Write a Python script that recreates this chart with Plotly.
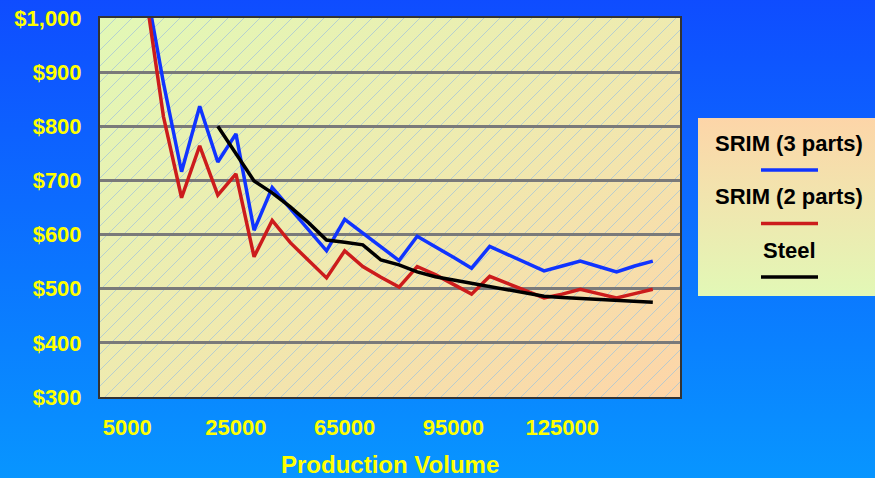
import base64
import plotly.graph_objects as go

# Production volumes (category axis) and labelled volumes
volumes = [2500, 5000, 7500, 10000, 12500, 15000, 20000, 25000, 30000, 35000,
           40000, 50000, 60000, 65000, 70000, 75000, 80000, 85000, 90000, 95000,
           100000, 105000, 110000, 115000, 120000, 125000, 130000, 135000, 140000,
           145000, 150000, 155000]
labelled_volumes = [5000, 25000, 65000, 95000, 125000]

# Cost per part ($)
srim3_volumes = volumes[2:31]
srim3_cost = [1065, 880, 716, 837, 734, 786, 608, 687, 648, 609, 570, 628, 603, 577,
              552, 597, 578, 558, 538, 578, 563, 548, 533, 542, 551, 541, 531, 542, 551]

srim2_volumes = volumes[2:31]
srim2_cost = [1050, 818, 668, 764, 673, 712, 559, 626, 585, 552, 520, 570, 541, 521,
              503, 541, 526, 508, 490, 523, 510, 497, 483, 490, 499, 491, 483, 491, 499]

steel_volumes = volumes[6:31]
steel_cost = [800, 750, 699, 677, 651, 622, 590, 586, 581, 553, 544, 531, 522, 516,
              510, 505, 498, 492, 486, 484, 482, 480, 479, 477, 475]

series = [
    ("SRIM (3 parts)", srim3_volumes, srim3_cost, "#1034FF"),
    ("SRIM (2 parts)", srim2_volumes, srim2_cost, "#CC1C1C"),
    ("Steel", steel_volumes, steel_cost, "#000000"),
]

W, H = 875, 478
ML, MR, MT, MB = 100, 195, 18, 81
PW, PH = W - ML - MR, H - MT - MB


def px_x(x):
    return (x - ML) / PW


def px_y(y):
    return (H - MB - y) / PH


def svg_uri(svg):
    return "data:image/svg+xml;base64," + base64.b64encode(svg.encode()).decode()


page_bg = f"""<svg xmlns='http://www.w3.org/2000/svg' width='{W}' height='{H + 20}' viewBox='0 0 {W} {H + 20}' preserveAspectRatio='none'>
<defs><linearGradient id='g' x1='0' y1='0' x2='0' y2='1'>
<stop offset='0' stop-color='#0F4BFF'/><stop offset='1' stop-color='#0897FF'/></linearGradient></defs>
<rect width='{W}' height='{H + 20}' fill='url(#g)'/></svg>"""

s = 16
plot_bg = f"""<svg xmlns='http://www.w3.org/2000/svg' width='{PW}' height='{PH}' viewBox='0 0 {PW} {PH}' preserveAspectRatio='none'>
<defs><linearGradient id='g' x1='0' y1='0' x2='1' y2='1'>
<stop offset='0' stop-color='#E2F8B6'/><stop offset='0.5' stop-color='#EFEAAF'/><stop offset='1' stop-color='#FDD5A8'/></linearGradient>
<pattern id='h' patternUnits='userSpaceOnUse' width='{s}' height='{s}'>
<path d='M0,{s} L{s},0 M-2,2 L2,-2 M{s-2},{s+2} L{s+2},{s-2}' stroke='#A6C6D8' stroke-width='0.75'/></pattern></defs>
<rect width='{PW}' height='{PH}' fill='url(#g)'/><rect width='{PW}' height='{PH}' fill='url(#h)'/></svg>"""

legend_bg = """<svg xmlns='http://www.w3.org/2000/svg' width='177' height='178' viewBox='0 0 177 178' preserveAspectRatio='none'>
<defs><linearGradient id='g' x1='0' y1='0' x2='0' y2='1'>
<stop offset='0' stop-color='#FDD5A8'/><stop offset='1' stop-color='#E2F8B6'/></linearGradient></defs>
<rect width='177' height='178' fill='url(#g)'/></svg>"""

fig = go.Figure()
for name, xs, ys, color in series:
    fig.add_trace(go.Scatter(
        x=[str(v) for v in xs], y=ys, mode="lines", name=name,
        line=dict(color=color, width=3.5), showlegend=False,
    ))

images = [
    dict(source=svg_uri(page_bg), xref="paper", yref="paper",
         x=px_x(0), y=px_y(-10), sizex=W / PW, sizey=(H + 20) / PH,
         xanchor="left", yanchor="top", sizing="stretch", layer="below"),
    dict(source=svg_uri(plot_bg), xref="paper", yref="paper",
         x=0, y=1, sizex=1, sizey=1,
         xanchor="left", yanchor="top", sizing="stretch", layer="below"),
    dict(source=svg_uri(legend_bg), xref="paper", yref="paper",
         x=px_x(698), y=px_y(118), sizex=177 / PW, sizey=178 / PH,
         xanchor="left", yanchor="top", sizing="stretch", layer="below"),
]

annotations = []
shapes = []
legend_font = dict(family="Liberation Sans, Arial, sans-serif", size=22, color="#000000")
for i, (name, xs, ys, color) in enumerate(series):
    ty = 143 + i * 53.5
    annotations.append(dict(
        text=f"<b>{name}</b>", xref="paper", yref="paper",
        x=px_x(789), y=px_y(ty), xanchor="center", yanchor="middle",
        showarrow=False, font=legend_font,
    ))
    ly = ty + 27
    shapes.append(dict(
        type="line", xref="paper", yref="paper",
        x0=px_x(761), x1=px_x(818), y0=px_y(ly), y1=px_y(ly),
        line=dict(color=color, width=3.5),
    ))

annotations.append(dict(
    text="<b>Production Volume</b>", xref="paper", yref="paper",
    x=0.5, y=px_y(464), xanchor="center", yanchor="middle", showarrow=False,
    font=dict(family="Liberation Sans, Arial, sans-serif", size=24, color="#FFFF00"),
))

tick_font = dict(family="Liberation Sans, Arial, sans-serif", size=22, color="#FFFF00",
                 weight="bold")

fig.update_layout(
    width=W, height=H,
    margin=dict(l=ML, r=MR, t=MT, b=MB, pad=0, autoexpand=False),
    paper_bgcolor="#0A70FF",
    plot_bgcolor="rgba(0,0,0,0)",
    images=images,
    annotations=annotations,
    shapes=shapes,
    xaxis=dict(
        type="category",
        categoryorder="array", categoryarray=[str(v) for v in volumes],
        range=[-0.5, len(volumes) - 0.5],
        tickvals=[str(v) for v in labelled_volumes],
        ticktext=[str(v) for v in labelled_volumes],
        showgrid=False, zeroline=False, ticks="", automargin=False,
        showline=True, mirror=True, linecolor="#333333", linewidth=2,
        tickfont=tick_font, ticklabelstandoff=10,
    ),
    yaxis=dict(
        range=[300, 1000], dtick=100, tickprefix="$", tickformat=",d",
        showgrid=True, gridcolor="#7A7A7A", gridwidth=2.5, zeroline=False,
        ticks="", showline=True, mirror=True, linecolor="#333333", linewidth=2,
        automargin=False, tickfont=tick_font, ticklabelstandoff=12,
    ),
)

fig.write_html("out.html")
